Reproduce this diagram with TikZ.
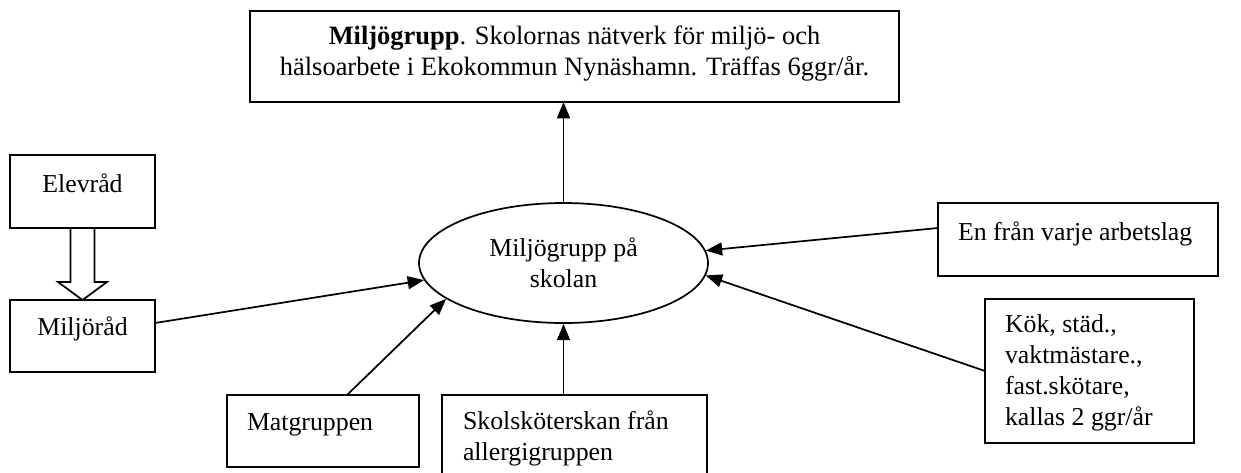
\documentclass[tikz,border=0pt]{standalone}
\usepackage{fontspec}
\setmainfont{Liberation Serif}
\usetikzlibrary{arrows.meta,shapes.geometric,calc}
\newcommand{\pxu}{*0.465pt}
\begin{document}
\begin{tikzpicture}[x=0.465pt,y=-0.465pt,
  font=\fontsize{12}{14.4}\selectfont,
  box/.style={draw, line width=0.8pt, rectangle, inner sep=0pt, outer sep=0pt, anchor=north west},
  txt/.style={inner sep=0pt, outer sep=0pt, anchor=base west, align=left},
  conn/.style={line width=0.8pt, -{Triangle[length=7.6pt,width=6pt]}},
  blockarrow/.style={line width=0.8pt, line join=miter}]
\useasboundingbox (0,0) rectangle (1241,472);

% top box
\node[box, minimum width=649\pxu, minimum height=91\pxu] (top) at (250,11) {};
\node[txt, anchor=base, align=center, font=\fontsize{12.3}{14.3}\selectfont] (toptxt) at (574.5,75) {\textbf{Miljögrupp}. Skolornas nätverk för miljö- och\\hälsoarbete i Ekokommun Nynäshamn. Träffas 6ggr/år.};

% left boxes
\node[box, minimum width=145\pxu, minimum height=73\pxu] (elev) at (10,155) {};
\node[txt, anchor=base] (elevtxt) at (82.5,192) {Elevråd};
\node[box, minimum width=145\pxu, minimum height=72\pxu] (milj) at (10,300) {};
\node[txt, anchor=base] (miljtxt) at (82.5,335) {Miljöråd};

% centre ellipse
\node[draw, ellipse, line width=0.8pt, minimum width=289\pxu, minimum height=120\pxu, inner sep=0pt, align=center] (ell) at (563.5,263) {Miljögrupp på\\skolan};

% right boxes
\node[box, minimum width=280\pxu, minimum height=73\pxu] (en) at (938,203) {};
\node[txt] (entxt) at (958,240) {En från varje arbetslag};
\node[box, minimum width=209\pxu, minimum height=144\pxu] (kok) at (985,299) {};
\node[txt] (koktxt) at (1005,425) {Kök, städ.,\\vaktmästare.,\\fast.skötare,\\kallas 2 ggr/år};

% bottom boxes
\node[box, minimum width=192\pxu, minimum height=72\pxu] (mat) at (227,395) {};
\node[txt] (mattxt) at (247,430) {Matgruppen};
\node[box, minimum width=265\pxu, minimum height=80\pxu] (skol) at (442,395) {};
\node[txt] (skoltxt) at (463,460) {Skolsköterskan från\\allergigruppen};

% block arrow Elevråd -> Miljöråd
\draw[blockarrow] ($(elev.south)+(-12,0)$) -- ++(0,54) -- ++(-12.5,0)
  -- (elev.south |- milj.north) -- ($(elev.south)+(24.5,54)$) -- ++(-12.5,0)
  -- ($(elev.south)+(12,0)$);

% connectors
\draw[conn] (ell.north) -- (ell.north |- top.south);
\draw[conn] ([yshift=13\pxu]milj.east) -- (ell.187);
\draw[conn] ([xshift=24\pxu]mat.north) -- (ell.197);
\draw[conn] (ell.south |- skol.north) -- (ell.south);
\draw[conn] ([yshift=11.5\pxu]en.west) -- (ell.5);
\draw[conn] (kok.west) -- (ell.355);
\end{tikzpicture}
\end{document}
